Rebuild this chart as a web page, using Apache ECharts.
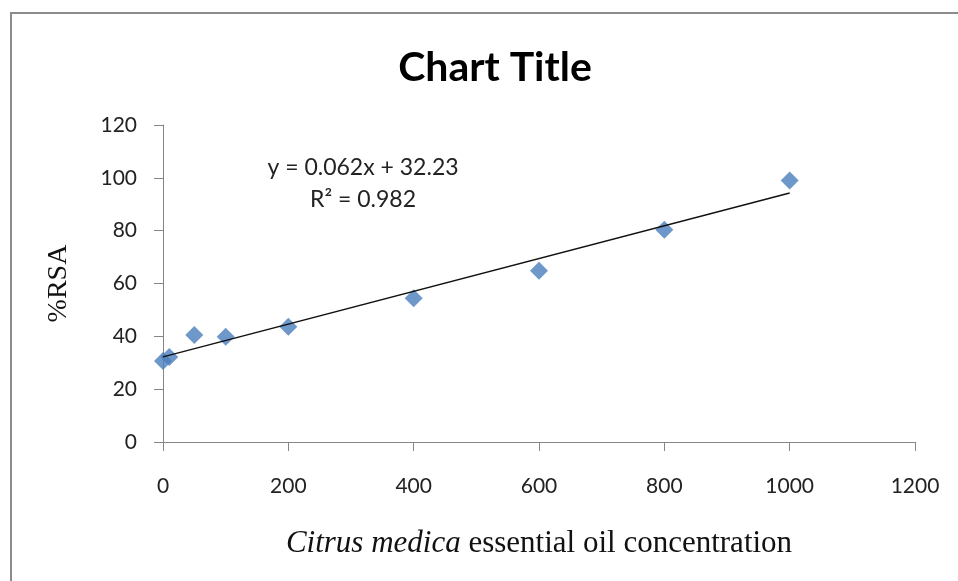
<!DOCTYPE html>
<html>
<head>
<meta charset="utf-8">
<script src="https://cdn.jsdelivr.net/npm/echarts@6/dist/echarts.min.js"></script>
<style>
html,body{margin:0;padding:0;background:#fff;}
#c{width:958px;height:581px;}
</style>
</head>
<body>
<div id="c"></div>
<script>
var concentration = [0, 10, 50, 100, 200, 400, 600, 800, 1000];
var rsa = [30.7, 32.2, 40.5, 39.8, 43.6, 54.4, 64.8, 80.3, 99.0];
var trendX = [0, 1000];
var trendY = [32.23, 94.23];
var equationText = 'y = 0.062x + 32.23';
var r2Text = 'R² = 0.982';

var chart = echarts.init(document.getElementById('c'));
var sans = 'Lato, "Open Sans", sans-serif';
var serif = '"Liberation Serif", "DejaVu Serif", serif';
chart.setOption({
  animation: false,
  backgroundColor: '#fff',
  title: {
    text: 'Chart Title',
    left: 490,
    textAlign: 'center',
    top: 42,
    textStyle: { fontFamily: sans, fontWeight: 'bold', fontSize: 41, color: '#000' }
  },
  grid: { left: 163, right: 43, top: 125, bottom: 139 },
  xAxis: {
    type: 'value', min: 0, max: 1200, interval: 200,
    axisLine: { show: true, onZero: false, lineStyle: { color: '#868686', width: 1 } },
    axisTick: { show: true, length: 9, lineStyle: { color: '#868686' } },
    splitLine: { show: false },
    axisLabel: { color: '#222', fontFamily: sans, fontSize: 21, margin: 34, formatter: function (v) { return String(v); } },
    name: '{i|Citrus medica} essential oil concentration',
    nameLocation: 'middle',
    nameGap: 86,
    nameTextStyle: {
      fontFamily: serif, fontSize: 31, color: '#111',
      rich: { i: { fontFamily: serif, fontStyle: 'italic', fontSize: 31, color: '#111' } }
    }
  },
  yAxis: {
    type: 'value', min: 0, max: 120, interval: 20,
    axisLine: { show: true, lineStyle: { color: '#868686', width: 1 } },
    axisTick: { show: true, length: 9, lineStyle: { color: '#868686' } },
    splitLine: { show: false },
    axisLabel: { color: '#222', fontFamily: sans, fontSize: 21, margin: 26 },
    name: '%RSA',
    nameLocation: 'middle',
    nameGap: 90,
    nameTextStyle: { fontFamily: serif, fontSize: 28, color: '#111' }
  },
  series: [
    {
      type: 'line',
      data: trendX.map(function (x, i) { return [x, trendY[i]]; }),
      showSymbol: false,
      symbol: 'none',
      lineStyle: { color: '#111', width: 1.5 },
      z: 3
    },
    {
      type: 'scatter',
      data: concentration.map(function (x, i) { return [x, rsa[i]]; }),
      symbol: 'diamond',
      symbolSize: [18, 18],
      itemStyle: { color: '#4A7EBB' },
      z: 2
    }
  ],
  graphic: [
    {
      type: 'rect',
      shape: { x: 11, y: 13, width: 1000, height: 700 },
      style: { fill: 'none', stroke: '#8c8c8c', lineWidth: 2 },
      silent: true, z: -10
    },
    {
      type: 'text', x: 363, y: 168,
      style: { text: equationText, fontFamily: sans, fontSize: 23, fill: '#222', align: 'center', verticalAlign: 'middle' }
    },
    {
      type: 'text', x: 363, y: 200,
      style: { text: r2Text, fontFamily: sans, fontSize: 23, fill: '#222', align: 'center', verticalAlign: 'middle' }
    }
  ]
});
</script>
</body>
</html>
